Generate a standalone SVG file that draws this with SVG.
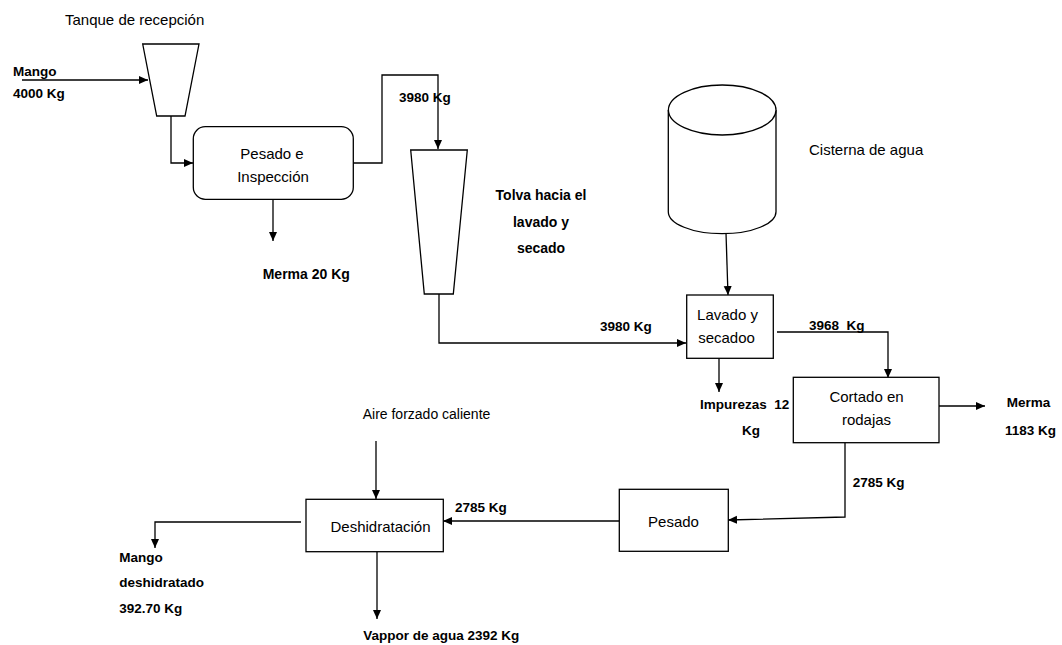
<svg xmlns="http://www.w3.org/2000/svg" width="1062" height="645" viewBox="0 0 1062 645">
<style>
.shape{fill:#fff;stroke:#000;stroke-width:1.3}
.conn{fill:none;stroke:#000;stroke-width:1.3}
.r{font-family:"Liberation Sans",Arial,sans-serif;font-size:14.5px;fill:#000}
.b{font-family:"Liberation Sans",Arial,sans-serif;font-size:13.5px;font-weight:bold;fill:#000}
.c{text-anchor:middle}
</style>
<defs>
<marker id="arr" markerUnits="userSpaceOnUse" markerWidth="10" markerHeight="9" refX="9" refY="4" orient="auto">
<path d="M0,0 L9,4 L0,8 z" fill="#000"/>
</marker>
</defs>
<rect width="1062" height="645" fill="#fff"/>
<g id="connectors">
<path class="conn" marker-end="url(#arr)" d="M22,80 H148"/>
<path class="conn" marker-end="url(#arr)" d="M171,116 V163 H193"/>
<path class="conn" marker-end="url(#arr)" d="M353,163 H382 V75 H438 V149"/>
<path class="conn" marker-end="url(#arr)" d="M273,199 V241"/>
<path class="conn" marker-end="url(#arr)" d="M439,294 V343 H686"/>
<path class="conn" marker-end="url(#arr)" d="M726,233 L728,295"/>
<path class="conn" marker-end="url(#arr)" d="M777,332 H888 V378"/>
<path class="conn" marker-end="url(#arr)" d="M719,358 V392"/>
<path class="conn" marker-end="url(#arr)" d="M938,406 H985"/>
<path class="conn" marker-end="url(#arr)" d="M845,443 V517 L728,520"/>
<path class="conn" marker-end="url(#arr)" d="M619,521 H443"/>
<path class="conn" marker-end="url(#arr)" d="M376,441 V499"/>
<path class="conn" marker-end="url(#arr)" d="M301,522 H155 V548"/>
<path class="conn" marker-end="url(#arr)" d="M377,552 V619"/>
</g>
<g id="tanque">
<polygon class="shape" points="142.7,44 199,44 185,116 156.7,116"/>
<text class="r" x="65" y="25" style="font-size:15px">Tanque de recepción</text>
</g>
<g id="mango-in">
<text class="b" x="13" y="76">Mango</text>
<text class="b" x="13" y="98">4000 Kg</text>
</g>
<g id="pesado-inspeccion">
<rect class="shape" x="193.3" y="126.7" width="160" height="72.6" rx="12"/>
<text class="r c" x="272" y="159" style="font-size:15px">Pesado e</text>
<text class="r c" x="273" y="182" style="font-size:15px">Inspección</text>
</g>
<g id="merma20">
<text class="b" x="262.7" y="279" style="font-size:14px">Merma 20 Kg</text>
</g>
<g id="label-3980a">
<text class="b" x="399" y="102">3980 Kg</text>
</g>
<g id="tolva">
<polygon class="shape" points="410.7,150 467.3,150 453.3,294 424.3,294"/>
<text class="b c" x="541" y="200" style="font-size:14px">Tolva hacia el</text>
<text class="b c" x="541" y="227" style="font-size:14px">lavado y</text>
<text class="b c" x="541" y="253" style="font-size:14px">secado</text>
</g>
<g id="label-3980b">
<text class="b" x="600" y="331">3980 Kg</text>
</g>
<g id="cisterna">
<path class="shape" d="M668.3,110 V211.7 A53.8,22 0 0 0 776,211.7 V110"/>
<ellipse class="shape" cx="722.2" cy="110" rx="53.8" ry="25"/>
<text class="r" x="809" y="155" style="font-size:15px">Cisterna de agua</text>
</g>
<g id="lavado">
<rect class="shape" x="686.7" y="295" width="86.6" height="63.3"/>
<text class="r c" x="727.5" y="320" style="font-size:15px">Lavado y</text>
<text class="r c" x="726.5" y="343" style="font-size:15px">secadoo</text>
</g>
<g id="label-3968">
<text class="b" x="809" y="330" xml:space="preserve">3968  Kg</text>
</g>
<g id="impurezas">
<text class="b" x="700" y="409" xml:space="preserve">Impurezas  12</text>
<text class="b c" x="751" y="435">Kg</text>
</g>
<g id="cortado">
<rect class="shape" x="793.3" y="377.3" width="145.7" height="65.4"/>
<text class="r c" x="866.5" y="402" style="font-size:15px">Cortado en</text>
<text class="r c" x="866.5" y="425" style="font-size:15px">rodajas</text>
</g>
<g id="merma1183">
<text class="b" x="1006.7" y="407">Merma</text>
<text class="b" x="1005" y="435">1183 Kg</text>
</g>
<g id="label-2785a">
<text class="b" x="852.7" y="487">2785 Kg</text>
</g>
<g id="pesado">
<rect class="shape" x="619.3" y="489.3" width="109" height="62"/>
<text class="r c" x="673.5" y="527" style="font-size:15px">Pesado</text>
</g>
<g id="label-2785b">
<text class="b" x="455" y="512">2785 Kg</text>
</g>
<g id="aire">
<text class="r" x="362.7" y="419" style="font-size:14px">Aire forzado caliente</text>
</g>
<g id="deshidratacion">
<rect class="shape" x="306" y="499.3" width="137.3" height="52.4"/>
<text class="r c" x="380.5" y="532" style="font-size:15px">Deshidratación</text>
</g>
<g id="mango-out">
<text class="b" x="119.3" y="562">Mango</text>
<text class="b" x="119.3" y="587">deshidratado</text>
<text class="b" x="119.3" y="613">392.70 Kg</text>
</g>
<g id="vapor">
<text class="b" x="363.3" y="640">Vappor de agua 2392 Kg</text>
</g>
</svg>
